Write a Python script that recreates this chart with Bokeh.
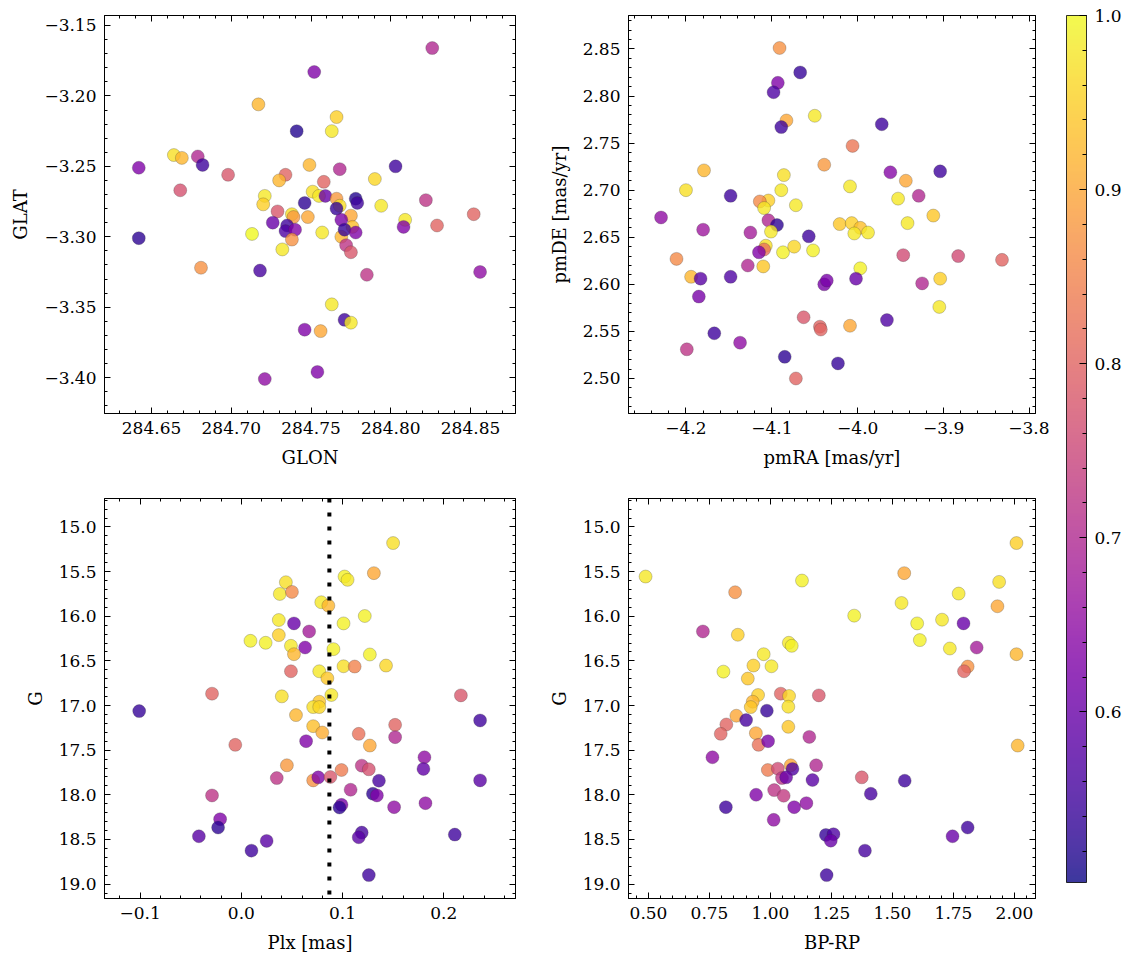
from bokeh.plotting import figure
from bokeh.models import (Range1d, LinearAxis, SingleIntervalTicker, CustomJSTickFormatter,
                          LinearColorMapper, ColorBar, Span, ColumnDataSource,
                          CustomLabelingPolicy)
from bokeh.layouts import row, column
from bokeh.palettes import Plasma256
from bokeh.embed import file_html
from bokeh.resources import INLINE

FONT = "DejaVu Serif"
TICK_FS = "17px"
LABEL_FS = "18px"

# ---------------- data ----------------
# Panel 1: sky positions
glon = [284.752, 284.717, 284.741, 284.664, 284.669, 284.679, 284.682, 284.642, 284.698, 284.668,
        284.734, 284.730, 284.749, 284.721, 284.720, 284.751, 284.746, 284.729, 284.726, 284.738,
        284.739, 284.735, 284.734, 284.740, 284.713, 284.738, 284.732, 284.748, 284.642, 284.681,
        284.718, 284.746, 284.721, 284.826, 284.766, 284.763, 284.768, 284.803, 284.790, 284.758,
        284.755, 284.759, 284.766, 284.768, 284.766, 284.778, 284.779, 284.794, 284.822, 284.852,
        284.775, 284.769, 284.776, 284.757, 284.769, 284.771, 284.778, 284.809, 284.808, 284.829,
        284.772, 284.775, 284.785, 284.856, 284.763, 284.771, 284.775, 284.756, 284.754]
glat = [-3.183, -3.206, -3.225, -3.242, -3.244, -3.243, -3.249, -3.251, -3.256, -3.267,
        -3.256, -3.260, -3.249, -3.271, -3.277, -3.268, -3.276, -3.282, -3.290, -3.284,
        -3.286, -3.292, -3.296, -3.295, -3.298, -3.302, -3.309, -3.286, -3.301, -3.322,
        -3.324, -3.366, -3.401, -3.166, -3.215, -3.225, -3.252, -3.250, -3.259, -3.261,
        -3.271, -3.271, -3.273, -3.278, -3.280, -3.273, -3.276, -3.278, -3.274, -3.284,
        -3.285, -3.288, -3.293, -3.297, -3.300, -3.295, -3.297, -3.288, -3.293, -3.292,
        -3.306, -3.311, -3.327, -3.325, -3.348, -3.359, -3.361, -3.367, -3.396]
prob_sky = [0.63, 0.92, 0.52, 0.97, 0.92, 0.70, 0.55, 0.63, 0.78, 0.77,
            0.80, 0.92, 0.92, 0.98, 0.95, 0.97, 0.53, 0.78, 0.60, 0.97,
            0.88, 0.55, 0.57, 0.63, 1.00, 0.87, 0.98, 0.90, 0.53, 0.87,
            0.56, 0.63, 0.65, 0.70, 0.95, 0.98, 0.70, 0.55, 0.96, 0.80,
            0.98, 0.60, 0.88, 0.97, 0.54, 0.52, 0.55, 0.98, 0.72, 0.80,
            0.90, 0.62, 0.93, 0.98, 0.92, 0.54, 0.63, 0.98, 0.63, 0.80,
            0.72, 0.78, 0.72, 0.65, 0.98, 0.55, 0.98, 0.90, 0.63]

# Panel 2: proper motions
pmra = [-4.091, -4.067, -4.093, -4.098, -4.083, -4.089, -4.050, -4.039, -4.179, -4.200,
        -4.086, -4.089, -4.148, -4.104, -4.114, -4.109, -4.072, -4.229, -4.104, -4.094,
        -4.101, -4.180, -4.125, -4.057, -4.107, -4.109, -4.115, -4.087, -4.074, -4.052,
        -4.211, -4.128, -4.110, -4.194, -4.183, -4.148, -4.185, -4.039, -4.036, -4.063,
        -4.044, -4.043, -4.167, -4.137, -4.199, -4.085, -4.072, -3.972, -4.006, -4.023,
        -3.962, -3.904, -3.944, -4.009, -3.953, -3.929, -3.912, -4.021, -4.007, -3.997,
        -4.004, -3.988, -3.942, -3.947, -3.883, -3.832, -3.997, -4.002, -3.925, -3.904,
        -3.905, -4.009, -3.966]
pmde = [2.851, 2.825, 2.814, 2.804, 2.774, 2.767, 2.779, 2.727, 2.721, 2.700,
        2.716, 2.700, 2.694, 2.689, 2.688, 2.681, 2.684, 2.671, 2.668, 2.663,
        2.656, 2.658, 2.655, 2.651, 2.641, 2.637, 2.634, 2.634, 2.640, 2.636,
        2.627, 2.620, 2.619, 2.608, 2.606, 2.608, 2.587, 2.600, 2.604, 2.565,
        2.555, 2.552, 2.548, 2.538, 2.531, 2.523, 2.500, 2.770, 2.747, 2.516,
        2.719, 2.720, 2.710, 2.704, 2.691, 2.694, 2.673, 2.664, 2.665, 2.660,
        2.654, 2.655, 2.665, 2.631, 2.630, 2.626, 2.617, 2.606, 2.601, 2.606,
        2.576, 2.556, 2.562]
prob_pm = [0.87, 0.54, 0.63, 0.57, 0.90, 0.55, 0.98, 0.88, 0.92, 0.97,
           0.97, 0.98, 0.55, 0.95, 0.86, 0.98, 0.98, 0.65, 0.70, 0.53,
           0.98, 0.67, 0.68, 0.55, 0.97, 0.82, 0.63, 0.99, 0.96, 0.99,
           0.86, 0.70, 0.94, 0.92, 0.58, 0.57, 0.62, 0.62, 0.62, 0.78,
           0.80, 0.80, 0.55, 0.65, 0.72, 0.53, 0.80, 0.55, 0.83, 0.54,
           0.64, 0.55, 0.90, 0.98, 0.98, 0.70, 0.94, 0.94, 0.95, 0.93,
           0.98, 0.98, 0.98, 0.76, 0.76, 0.80, 0.99, 0.60, 0.70, 0.95,
           0.98, 0.90, 0.57]

# Panel 3: parallax vs G
plx = [0.044, 0.038, 0.050, 0.037, 0.052, 0.067, 0.037, 0.009, 0.024, 0.049,
       0.063, 0.052, 0.049, -0.029, 0.040, -0.101, 0.054, -0.006, 0.064, 0.045,
       0.035, -0.029, -0.021, -0.023, -0.042, 0.025, 0.010, 0.150, 0.131, 0.102,
       0.105, 0.079, 0.086, 0.122, 0.101, 0.091, 0.127, 0.101, 0.112, 0.143,
       0.077, 0.085, 0.089, 0.077, 0.071, 0.077, 0.217, 0.236, 0.071, 0.080,
       0.116, 0.152, 0.152, 0.127, 0.181, 0.180, 0.119, 0.126, 0.099, 0.071,
       0.076, 0.088, 0.136, 0.236, 0.108, 0.130, 0.134, 0.099, 0.097, 0.151,
       0.182, 0.119, 0.116, 0.211, 0.126]
g_plx = [15.619, 15.750, 15.727, 16.042, 16.080, 16.170, 16.211, 16.275, 16.297, 16.331,
         16.350, 16.425, 16.616, 16.867, 16.897, 17.062, 17.107, 17.440, 17.399, 17.669,
         17.812, 18.007, 18.273, 18.366, 18.464, 18.516, 18.625, 15.180, 15.517, 15.555,
         15.592, 15.843, 15.881, 15.997, 16.080, 16.368, 16.428, 16.560, 16.563, 16.552,
         16.616, 16.694, 16.882, 16.957, 17.017, 17.017, 16.886, 17.167, 17.231, 17.302,
         17.317, 17.216, 17.354, 17.448, 17.579, 17.710, 17.673, 17.714, 17.722, 17.838,
         17.804, 17.800, 17.842, 17.838, 17.943, 17.988, 18.007, 18.112, 18.142, 18.138,
         18.093, 18.423, 18.475, 18.445, 18.899]
prob_plx = [0.97, 0.98, 0.86, 0.98, 0.60, 0.68, 0.95, 0.99, 0.99, 0.98,
            0.63, 0.92, 0.80, 0.80, 0.97, 0.54, 0.92, 0.80, 0.63, 0.88,
            0.72, 0.72, 0.63, 0.53, 0.58, 0.58, 0.55, 0.97, 0.90, 0.99,
            0.98, 0.98, 0.92, 0.99, 0.99, 0.99, 0.99, 0.97, 0.85, 0.96,
            0.98, 0.94, 0.98, 0.94, 0.97, 0.96, 0.78, 0.55, 0.93, 0.91,
            0.82, 0.80, 0.70, 0.90, 0.65, 0.59, 0.72, 0.77, 0.84, 0.87,
            0.63, 0.78, 0.56, 0.58, 0.70, 0.53, 0.63, 0.62, 0.53, 0.65,
            0.65, 0.56, 0.58, 0.55, 0.55]
plx_line = 0.087

# Panel 4: colour-magnitude
bprp = [0.488, 1.129, 0.855, 0.723, 0.866, 1.075, 1.087, 0.972, 0.807, 0.930,
        1.004, 0.907, 0.949, 0.927, 0.919, 1.042, 1.076, 1.073, 1.198, 0.985,
        0.860, 0.900, 0.819, 0.796, 0.940, 1.073, 0.951, 0.990, 1.159, 0.762,
        0.989, 1.030, 1.083, 1.090, 1.047, 1.064, 1.187, 1.172, 0.941, 1.015,
        1.054, 0.817, 1.097, 1.147, 1.013, 2.008, 1.548, 1.937, 1.771, 1.537,
        1.930, 1.343, 1.601, 1.703, 1.791, 1.612, 1.735, 1.845, 2.008, 1.808,
        1.793, 2.013, 1.374, 1.550, 1.411, 1.227, 1.258, 1.247, 1.808, 1.746,
        1.387, 1.230]
g_cmd = [15.555, 15.600, 15.731, 16.170, 16.207, 16.297, 16.331, 16.425, 16.620, 16.552,
         16.560, 16.698, 16.882, 16.957, 17.017, 16.867, 16.893, 17.013, 16.886, 17.058,
         17.114, 17.163, 17.212, 17.317, 17.309, 17.238, 17.440, 17.399, 17.351, 17.579,
         17.722, 17.707, 17.669, 17.710, 17.812, 17.804, 17.669, 17.834, 17.999, 17.947,
         18.010, 18.138, 18.138, 18.093, 18.280, 15.180, 15.517, 15.615, 15.746, 15.851,
         15.888, 15.993, 16.080, 16.038, 16.080, 16.267, 16.361, 16.350, 16.425, 16.563,
         16.616, 17.448, 17.804, 17.842, 17.988, 18.449, 18.441, 18.513, 18.366, 18.464,
         18.625, 18.899]
prob_cmd = [0.98, 0.99, 0.87, 0.70, 0.95, 0.98, 0.99, 0.98, 0.99, 0.95,
            0.98, 0.94, 0.95, 0.92, 0.94, 0.80, 0.96, 0.97, 0.78, 0.54,
            0.90, 0.56, 0.80, 0.80, 0.90, 0.94, 0.82, 0.62, 0.70, 0.65,
            0.84, 0.76, 0.90, 0.57, 0.72, 0.60, 0.70, 0.58, 0.63, 0.72,
            0.73, 0.55, 0.63, 0.65, 0.65, 0.95, 0.90, 0.97, 0.98, 0.98,
            0.90, 0.99, 0.99, 0.98, 0.60, 0.99, 0.98, 0.68, 0.92, 0.87,
            0.80, 0.92, 0.78, 0.55, 0.56, 0.54, 0.57, 0.60, 0.55, 0.60,
            0.56, 0.55]

PROB_MIN, PROB_MAX = 0.502, 1.0

mapper = LinearColorMapper(palette=Plasma256, low=PROB_MIN, high=PROB_MAX)


def fmt(dec):
    return CustomJSTickFormatter(code=(
        "var v = Math.abs(tick) < 1e-9 ? 0 : tick;"
        "return v.toFixed(%d).replace('-', '\u2212');" % dec))


def style_axis(ax, labels=True):
    ax.major_tick_in = 6
    ax.major_tick_out = 0
    ax.minor_tick_in = 3
    ax.minor_tick_out = 0
    ax.major_tick_line_color = "black"
    ax.minor_tick_line_color = "black"
    ax.axis_line_color = "black"
    ax.major_label_text_font = FONT
    ax.major_label_text_color = "black"
    if labels:
        ax.major_label_text_font_size = TICK_FS
        ax.major_label_standoff = 8
        ax.axis_label_text_font = FONT
        ax.axis_label_text_font_size = LABEL_FS
        ax.axis_label_text_font_style = "normal"
        ax.axis_label_text_color = "black"
        ax.axis_label_standoff = 10
    else:
        # mirrored axis: ticks only, no labels drawn, (almost) no space reserved
        ax.major_label_text_font_size = "1px"
        ax.major_label_policy = CustomLabelingPolicy(code="return [];")
        ax.major_label_standoff = 0
        ax.axis_label = None


def panel(x, y, prob, xr, yr, xint, yint, xdec, ydec, xlabel, ylabel,
          bl, br, bt, bb, fw, fh):
    p = figure(frame_width=fw, frame_height=fh,
               x_range=Range1d(*xr), y_range=Range1d(*yr),
               x_axis_location=None, y_axis_location=None,
               output_backend="svg", toolbar_location=None,
               min_border_left=bl, min_border_right=br,
               min_border_top=bt, min_border_bottom=bb)
    p.grid.visible = False
    p.outline_line_color = "black"
    p.outline_line_width = 1
    p.background_fill_color = "white"
    p.border_fill_color = "white"
    for loc, dim in (("below", "x"), ("above", "x"), ("left", "y"), ("right", "y")):
        interval = xint if dim == "x" else yint
        dec = xdec if dim == "x" else ydec
        ax = LinearAxis(ticker=SingleIntervalTicker(interval=interval, num_minor_ticks=5),
                        formatter=fmt(dec))
        labels = loc in ("below", "left")
        if labels:
            ax.axis_label = xlabel if dim == "x" else ylabel
        style_axis(ax, labels)
        p.add_layout(ax, loc)
    src = ColumnDataSource(dict(x=x, y=y, p=prob))
    p.scatter("x", "y", source=src, size=13,
              fill_color={"field": "p", "transform": mapper}, fill_alpha=0.8,
              line_color="#333333", line_alpha=0.5, line_width=0.5)
    return p


f1 = panel(glon, glat, prob_sky, (284.6205, 284.8782), (-3.4255, -3.1429), 0.05, 0.05, 2, 2,
           "GLON", "GLAT", 104, 30, 15, 78, 411, 398)
f2 = panel(pmra, pmde, prob_pm, (-4.2669, -3.793), (2.4628, 2.8855), 0.1, 0.05, 1, 2,
           "pmRA [mas/yr]", "pmDE [mas/yr]", 81, 14, 15, 78, 407, 398)
f3 = panel(plx, g_plx, prob_plx, (-0.1353, 0.2710), (19.161, 14.681), 0.1, 0.5, 1, 1,
           "Plx [mas]", "G", 104, 30, 7, 57, 411, 400)
f4 = panel(bprp, g_cmd, prob_cmd, (0.418, 2.086), (19.161, 14.681), 0.25, 0.5, 2, 1,
           "BP-RP", "G", 81, 14, 7, 57, 407, 400)

vline = Span(location=plx_line, dimension="height", line_color="black",
             line_width=4, line_dash="4 10", line_cap="butt")
f3.add_layout(vline)

# colour bar figure
cb_fig = figure(width=84, height=955, x_range=Range1d(0, 1), y_range=Range1d(0, 1),
                x_axis_location=None, y_axis_location=None,
                output_backend="svg", toolbar_location=None,
                min_border_left=0, min_border_right=0, min_border_top=0, min_border_bottom=0)
cb_fig.grid.visible = False
cb_fig.outline_line_color = None
cb_fig.background_fill_color = "white"
cb_fig.border_fill_color = "white"

cbar = ColorBar(color_mapper=mapper, location=(17, 73), width=20, height=867,
                padding=0, scale_alpha=0.8,
                ticker=SingleIntervalTicker(interval=0.1, num_minor_ticks=5),
                formatter=fmt(1),
                major_label_text_font=FONT, major_label_text_font_size=TICK_FS,
                major_label_text_color="black", label_standoff=8,
                major_tick_in=7, major_tick_out=0, minor_tick_in=4, minor_tick_out=0,
                major_tick_line_color="black", minor_tick_line_color="black",
                bar_line_color="black", bar_line_width=1,
                border_line_color=None, background_fill_color=None)
cb_fig.add_layout(cbar, "center")

layout = row(column(row(f1, f2), row(f3, f4)), cb_fig)

with open("out.html", "w") as fh:
    fh.write(file_html(layout, INLINE))
